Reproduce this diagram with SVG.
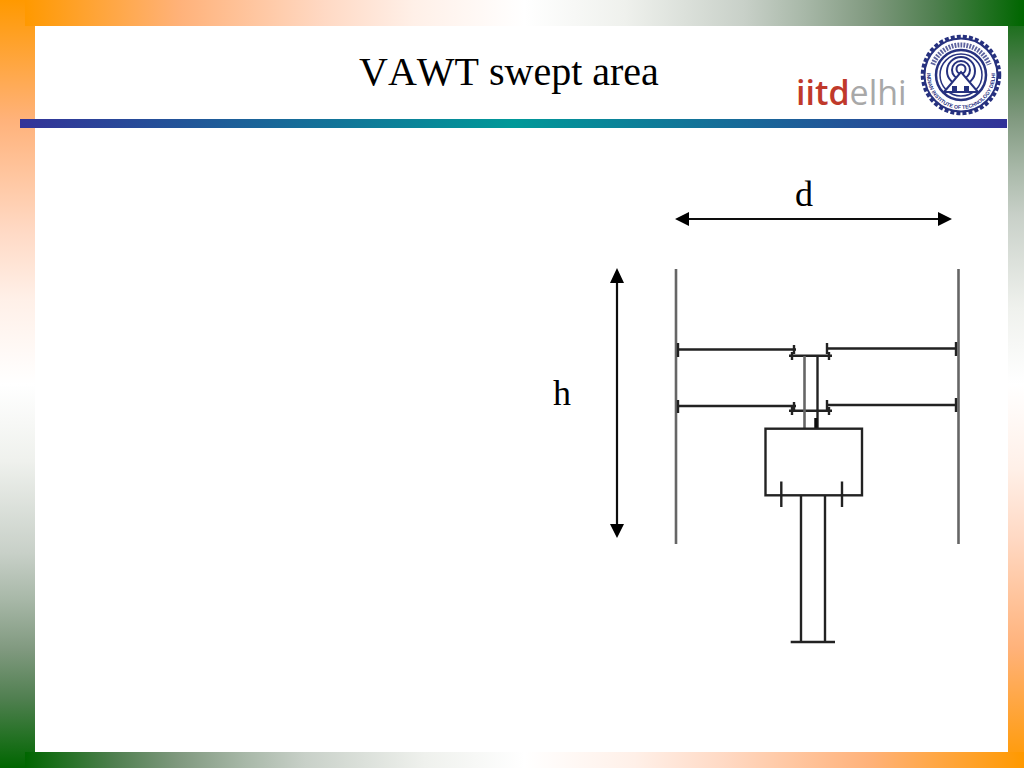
<svg xmlns="http://www.w3.org/2000/svg" width="1024" height="768" viewBox="0 0 1024 768">
<defs>
<linearGradient id="gFwd"><stop offset="0" stop-color="#ff9900"/><stop offset="0.156" stop-color="#ffb27a"/><stop offset="0.3" stop-color="#ffd9c4"/><stop offset="0.39" stop-color="#fff0e8"/><stop offset="0.5" stop-color="#ffffff"/><stop offset="0.6" stop-color="#eff1ed"/><stop offset="0.72" stop-color="#c8d0c8"/><stop offset="0.78" stop-color="#a8b8a8"/><stop offset="0.846" stop-color="#80997f"/><stop offset="0.911" stop-color="#4f7f4f"/><stop offset="1" stop-color="#006600"/></linearGradient>
<linearGradient id="gTop" href="#gFwd" x1="0" y1="0" x2="1" y2="0"/>
<linearGradient id="gBottom" href="#gFwd" x1="1" y1="0" x2="0" y2="0"/>
<linearGradient id="gLeft" href="#gFwd" x1="0" y1="0" x2="0" y2="1"/>
<linearGradient id="gRight" href="#gFwd" x1="0" y1="1" x2="0" y2="0"/>
<linearGradient id="gRule" x1="0" y1="0" x2="1" y2="0"><stop offset="0" stop-color="#333399"/><stop offset="0.5" stop-color="#009999"/><stop offset="1" stop-color="#333399"/></linearGradient>
<filter id="soft" x="-5%" y="-5%" width="110%" height="110%"><feGaussianBlur stdDeviation="0.55"/></filter>
<path id="arcBottom" d="M929 63.400A34 34 0 1 0 993 63.400"/>
</defs>
<style>
.l{stroke:#222;stroke-width:2.4;fill:none}
.g{stroke:#666;stroke-width:2.6;fill:none}
.h{fill:#000;stroke:none}
.a{stroke:#111;stroke-width:2.2;fill:none}
.t{font-family:"Liberation Serif",serif;fill:#000;font-kerning:none}
.s{fill:none;stroke:#27307f}
</style>
<g id="frame">
<rect width="1024" height="768" fill="#fff"/>
<rect x="0" y="0" width="35" height="768" fill="url(#gLeft)"/>
<rect x="1008" y="0" width="16" height="768" fill="url(#gRight)"/>
<rect x="25" y="0" width="999" height="26" fill="url(#gTop)"/>
<rect x="25" y="752" width="999" height="16" fill="url(#gBottom)"/>
<rect x="20" y="119" width="987" height="9" fill="url(#gRule)"/>
</g>
<text id="title" class="t" x="359" y="85" font-size="40">VAWT swept area</text>
<g id="logo">
<text x="796" y="105" font-family="Open Sans,sans-serif" font-size="34"><tspan fill="#c0392b" font-weight="600">iitd</tspan><tspan fill="#a8a8a8">elhi</tspan></text>
<g filter="url(#soft)">
<circle cx="961" cy="75" r="38.500" fill="#fff" stroke="#27307f" stroke-width="3.500" stroke-dasharray="4 2.100"/>
<circle class="s" cx="961" cy="75" r="36.500" stroke-width="2"/>
<path class="s" d="M932.800 64.700A30 30 0 0 1 989.200 64.700" stroke-width="5" stroke-dasharray="1.800 1.200" opacity="0.75"/>
<circle class="s" cx="961" cy="75" r="25" stroke-width="2.500"/>
<circle class="s" cx="961" cy="75" r="21" stroke-width="1.500"/>
<circle class="s" cx="961" cy="71" r="14" stroke-width="2"/>
<circle class="s" cx="961" cy="70" r="9" stroke-width="2"/>
<circle class="s" cx="961" cy="69" r="4.500" stroke-width="2"/>
<path d="M944 92L961 72L978 92Z" fill="#fff" stroke="#27307f" stroke-width="2"/>
<path d="M952 86h5v5h-5zM964 86h5v5h-5z" fill="#27307f"/>
</g>
<text font-family="Liberation Sans,sans-serif" font-size="5.200" font-weight="700" fill="#27307f"><textPath href="#arcBottom" startOffset="50%" text-anchor="middle">INDIAN INSTITUTE OF TECHNOLOGY DELHI</textPath></text>
</g>
<g id="connectors" filter="url(#soft)">
<line class="a" x1="686" y1="219" x2="942" y2="219"/>
<path class="h" d="M675 219L689 212V226ZM952 219L938 212V226Z"/>
<line class="a" x1="617" y1="278" x2="617" y2="528"/>
<path class="h" d="M617 268L610 283H624ZM617 538L610 524H624Z"/>
</g>
<text id="label-d" class="t" x="804" y="206" font-size="36" text-anchor="middle">d</text>
<text id="label-h" class="t" x="562" y="405" font-size="36" text-anchor="middle">h</text>
<g id="turbine" filter="url(#soft)">
<line class="g" x1="676" y1="269" x2="676" y2="544"/>
<line class="g" x1="958.500" y1="269" x2="958.500" y2="544"/>
<path class="l" d="M677 349.500H796M677 406H796M826 348.500H957M826 405H957"/>
<path class="l" d="M678 343V357M678 400V413M956 342V356M956 398V412M794 345V354M794 402V410M827 343V354M827 400V410"/>
<path class="l" d="M789 355.700H832M789 410.700H832M792 352V360M792 407V415M829 352V360M829 407V415"/>
<line class="g" x1="804.500" y1="356" x2="804.500" y2="428"/>
<line class="l" x1="817.500" y1="356" x2="817.500" y2="428"/>
<line x1="816" y1="418" x2="816" y2="428" stroke="#111" stroke-width="3.500"/>
<rect class="l" x="765.500" y="428.700" width="96.500" height="66.600"/>
<path class="l" d="M781.300 481.500V507M842 481.500V507"/>
<path class="l" d="M801 496V642M825 496V642M790.700 642H835"/>
</g>
</svg>
